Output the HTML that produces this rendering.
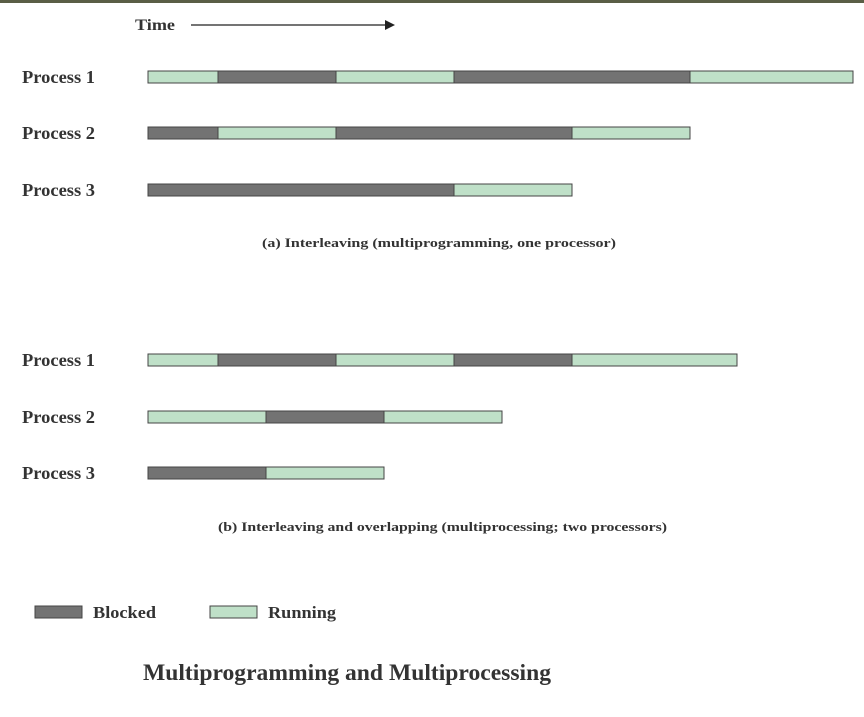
<!DOCTYPE html>
<html><head><meta charset="utf-8"><style>
body{margin:0;background:#fff;}
svg text{font-family:"Liberation Serif",serif;font-weight:bold;fill:#333;}
</style></head><body>
<svg width="864" height="712">
<rect x="0" y="0" width="864" height="3" fill="#5a5e46"/>
<text x="135" y="30" font-size="16" textLength="40" lengthAdjust="spacingAndGlyphs">Time</text>
<line x1="191" y1="25" x2="385" y2="25" stroke="#222" stroke-width="1.3"/>
<polygon points="385,20 395,25 385,30" fill="#222"/>
<g id="bars"></g>
<text x="262" y="247" font-size="13" textLength="354" lengthAdjust="spacingAndGlyphs">(a)  Interleaving (multiprogramming, one processor)</text>
<text x="218" y="531" font-size="13" textLength="449" lengthAdjust="spacingAndGlyphs">(b)  Interleaving and overlapping (multiprocessing; two processors)</text>
<rect x="35" y="606" width="47" height="12" fill="#737373" stroke="#444"/>
<text x="93" y="618" font-size="17" textLength="63" lengthAdjust="spacingAndGlyphs">Blocked</text>
<rect x="210" y="606" width="47" height="12" fill="#bfe0c8" stroke="#444"/>
<text x="268" y="618" font-size="17" textLength="68" lengthAdjust="spacingAndGlyphs">Running</text>
<text x="143" y="680" font-size="23" textLength="408" lengthAdjust="spacingAndGlyphs">Multiprogramming and Multiprocessing</text>
</svg>
<script>
const rowLabels=["Process 1","Process 2","Process 3","Process 1","Process 2","Process 3"];
const rowY=[77,133,190,360,417,473];
// durations (time units) and states (R=running, B=blocked)
const rowDurations=[[70,118,118,236,163],[70,118,236,118],[306,118],[70,118,118,118,165],[118,118,118],[118,118]];
const rowStates=[["R","B","R","B","R"],["B","R","B","R"],["B","R"],["R","B","R","B","R"],["R","B","R"],["B","R"]];
const x0=148, scale=1, barH=12;
const xAt=t=>x0+t*scale;
const g=document.getElementById('bars');
const NS="http://www.w3.org/2000/svg";
rowLabels.forEach((lab,i)=>{
  const t=document.createElementNS(NS,'text');
  t.setAttribute('x',22);t.setAttribute('y',rowY[i]+6);t.setAttribute('font-size','18');
  t.setAttribute('textLength','73');t.setAttribute('lengthAdjust','spacingAndGlyphs');
  t.textContent=lab;
  
  
  g.appendChild(t);
  let acc=0;
  rowDurations[i].forEach((d,j)=>{
    const r=document.createElementNS(NS,'rect');
    r.setAttribute('x',xAt(acc));r.setAttribute('y',rowY[i]-barH/2);
    r.setAttribute('width',d*scale);r.setAttribute('height',barH);
    r.setAttribute('fill',rowStates[i][j]==='R'?'#bfe0c8':'#737373');
    r.setAttribute('stroke','#444');r.setAttribute('stroke-width','1');
    
    
    g.appendChild(r);
    acc+=d;
  });
});
</script>
</body></html>
